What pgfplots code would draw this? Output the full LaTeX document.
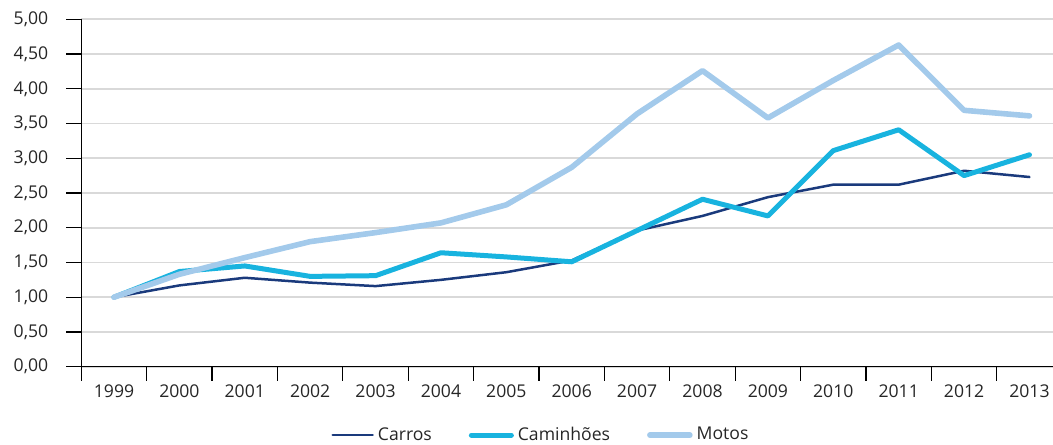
\documentclass[border=0pt]{standalone}
\usepackage{pgfplots}
\pgfplotsset{compat=1.18}
\usepackage{fontspec}
\setmainfont{Open Sans}

\definecolor{carros}{HTML}{1A3A7C}
\definecolor{caminhoes}{HTML}{18B3DF}
\definecolor{motos}{HTML}{A3CAEB}
\definecolor{gridgray}{HTML}{D9D9D9}

\pgfplotstableread{
x carros caminhoes motos
0  1.00 1.00 1.00
1  1.17 1.37 1.33
2  1.28 1.45 1.57
3  1.21 1.30 1.80
4  1.16 1.31 1.93
5  1.25 1.64 2.07
6  1.36 1.58 2.33
7  1.53 1.51 2.87
8  1.96 1.96 3.64
9  2.17 2.41 4.26
10 2.44 2.17 3.58
11 2.62 3.11 4.12
12 2.62 3.41 4.63
13 2.82 2.75 3.69
14 2.73 3.05 3.61
}\datatable

\begin{document}
\begin{tikzpicture}
\begin{axis}[
    at={(0,0)}, anchor=south west,
    scale only axis,
    width=485.85pt, height=173.7pt,
    xmin=-0.5, xmax=14.36,
    ymin=0, ymax=5,
    axis x line*=bottom, axis y line*=left,
    axis line style={black, line width=0.6pt},
    tick align=outside,
    xtick={0,...,14},
    xticklabels={1999,2000,2001,2002,2003,2004,2005,2006,2007,2008,2009,2010,2011,2012,2013},
    major x tick style={draw=none},
    minor xtick={-0.5,0.5,...,13.5},
    minor x tick style={black, line width=0.6pt},
    minor tick length=7pt,
    ytick={0,0.5,...,5},
    major tick length=7.5pt,
    y tick style={black, line width=0.6pt},
    ymajorgrids,
    grid style={gridgray, line width=0.8pt},
    /pgf/number format/assume math mode=true,
    yticklabel={\pgfmathprintnumber[fixed,fixed zerofill,precision=2,use comma]{\tick}},
    tick label style={font=\fontsize{8.8}{10}\selectfont, text=black!85},
    yticklabel style={xshift=-5.5pt},
    xticklabel style={yshift=2pt},
    legend columns=-1,
    legend image code/.code={\draw[#1, line cap=round] (0pt,0pt) -- (20pt,0pt);},
    legend style={draw=none, fill=none, at={(0.257,-0.197)}, anchor=west,
        font=\fontsize{8.8}{10}\selectfont, text=black!85, inner sep=0pt,
        /tikz/every even column/.append style={column sep=16.5pt}},
    every axis plot/.append style={line join=round, line cap=round},
]
\addplot[carros, line width=1.25pt] table[x=x, y=carros] {\datatable};
\addlegendentry{Carros}
\addplot[caminhoes, line width=2.5pt] table[x=x, y=caminhoes] {\datatable};
\addlegendentry{Caminhões}
\addplot[motos, line width=2.8pt] table[x=x, y=motos] {\datatable};
\addlegendentry{Motos}
\end{axis}
\pgfresetboundingbox
\path[use as bounding box] (-40.65pt,-38.65pt) rectangle (485.85pt,183.35pt);
\end{tikzpicture}
\end{document}
